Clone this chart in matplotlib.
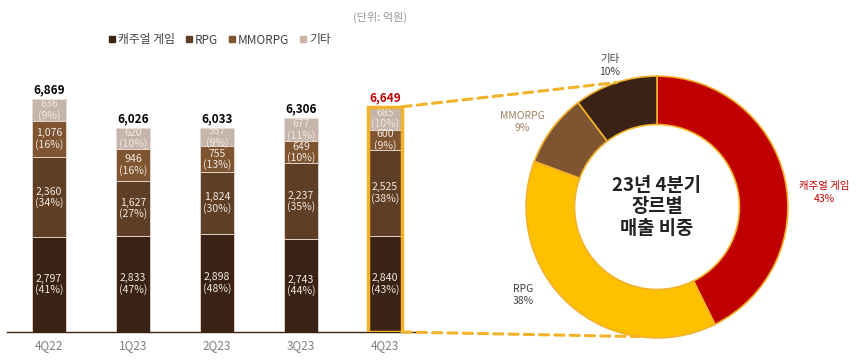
import numpy as np
import matplotlib.pyplot as plt
from matplotlib.patches import Rectangle, ConnectionPatch
from matplotlib.lines import Line2D

plt.rcParams['font.family'] = ['Noto Sans CJK KR', 'DejaVu Sans']

quarters = ['4Q22', '1Q23', '2Q23', '3Q23', '4Q23']
genres = ['캐주얼 게임', 'RPG', 'MMORPG', '기타']
casual = [2797, 2833, 2898, 2743, 2840]
rpg = [2360, 1627, 1824, 2237, 2525]
mmorpg = [1076, 946, 755, 649, 600]
etc = [636, 620, 557, 677, 685]
casual_pct = [41, 47, 48, 44, 43]
rpg_pct = [34, 27, 30, 35, 38]
mmorpg_pct = [16, 16, 13, 10, 9]
etc_pct = [9, 10, 9, 11, 10]
totals = [6869, 6026, 6033, 6306, 6649]

bar_colors = ['#3a2314', '#5e3e25', '#7f5431', '#c6b5aa']
donut_colors = ['#c00000', '#ffc000', '#7f5431', '#3a2314']
label_colors = ['#c00000', '#404040', '#a08060', '#404040']
gold = '#f2b22a'

fig = plt.figure(figsize=(8.68, 3.62), dpi=100)

# ---- stacked bars ----
ax = fig.add_axes([7 / 868, 30 / 362, 410 / 868, 271 / 362])
x = np.arange(len(quarters))
w = 0.405
series = [casual, rpg, mmorpg, etc]
pcts = [casual_pct, rpg_pct, mmorpg_pct, etc_pct]
bottom = np.zeros(len(quarters))
for vals, pc, col in zip(series, pcts, bar_colors):
    vals = np.array(vals)
    ax.bar(x, vals, w, bottom=bottom, color=col, edgecolor='#e6dcd4', linewidth=0.6)
    for i in range(len(quarters)):
        ax.text(x[i], bottom[i] + vals[i] / 2, f'{vals[i]:,}\n({pc[i]}%)',
                ha='center', va='center', fontsize=7.6, color='#f0e8e2',
                linespacing=1.05)
    bottom += vals

for i, t in enumerate(totals):
    c = '#c00000' if i == len(totals) - 1 else 'black'
    ax.annotate(f'{t:,}', (x[i], t), xytext=(0, 2), textcoords='offset points',
                ha='center', va='bottom', fontsize=8.5, fontweight='bold', color=c)

hl = len(quarters) - 1
ax.add_patch(Rectangle((x[hl] - w / 2, 0), w, totals[hl], fill=False,
                       edgecolor=gold, linewidth=2.5, zorder=5))

ax.set_xlim(-0.5, 4.38)
ax.set_ylim(0, 8000)
ax.set_xticks(x)
ax.set_xticklabels(quarters, fontsize=8.5, color='#7f7f7f')
ax.tick_params(axis='x', length=0, pad=5)
ax.set_yticks([])
for s in ['top', 'left', 'right']:
    ax.spines[s].set_visible(False)
ax.spines['bottom'].set_color('#3a2314')
ax.spines['bottom'].set_linewidth(1)

# ---- donut ----
dax = fig.add_axes([513 / 868, 11 / 362, 288 / 868, 288 / 362])
share = [casual[hl], rpg[hl], mmorpg[hl], etc[hl]]
dax.pie(share, colors=donut_colors, startangle=90, counterclock=False,
        radius=1, wedgeprops=dict(width=0.37, edgecolor=gold, linewidth=1.2))
dax.set_xlim(-1.1, 1.1)
dax.set_ylim(-1.1, 1.1)
dax.set_aspect('equal')
dax.axis('off')

share_pct = [round(v / sum(share) * 100) for v in share]
label_pos = [(1.28, 0.11), (-1.02, -0.67), (-1.03, 0.65), (-0.36, 1.08)]
for g, p, (lx, ly), c in zip(genres, share_pct, label_pos, label_colors):
    dax.text(lx, ly, f'{g}\n{p}%', ha='center', va='center', fontsize=7.5,
             color=c, clip_on=False, linespacing=1.3)

dax.text(0, 0, '23년 4분기\n장르별\n매출 비중', ha='center', va='center',
         fontsize=13.5, fontweight='bold', color='#222222', linespacing=1.15)

# dashed connectors from highlighted bar to donut
for yv, ang in [(totals[hl], 108), (0, 262)]:
    r = np.deg2rad(ang)
    con = ConnectionPatch(xyA=(x[hl] + w / 2, yv), coordsA=ax.transData,
                          xyB=(np.cos(r), np.sin(r)), coordsB=dax.transData,
                          color=gold, linewidth=2.2, linestyle=(0, (3, 2)))
    fig.add_artist(con)

# ---- legend & unit ----
handles = [Line2D([], [], marker='s', linestyle='none', markersize=5,
                  color=c) for c in bar_colors]
fig.legend(handles, genres, loc='center', bbox_to_anchor=(219 / 868, 1 - 40 / 362),
           ncol=4, frameon=False, fontsize=8.5, handletextpad=0.1,
           columnspacing=0.8, labelcolor='#404040', handlelength=0.8)
fig.text(380 / 868, 1 - 17 / 362, '(단위: 억원)', ha='center', va='center',
         fontsize=8, color='#999999')

fig.savefig('out.png', dpi=100)
